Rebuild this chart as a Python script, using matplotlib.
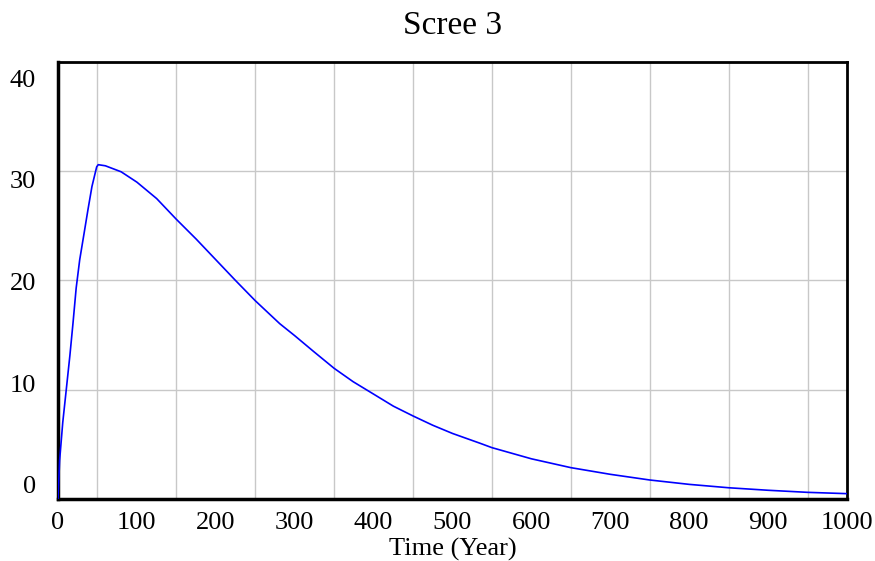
import matplotlib
matplotlib.use("Agg")
import matplotlib.pyplot as plt

# data
years = [0, 2, 6, 10, 15, 19, 23, 27.5, 33, 38, 43, 49, 51,
         60, 80, 100, 125, 150, 175, 200, 225, 250, 281, 300,
         324, 350, 374, 400, 425, 450, 475, 500, 535, 550, 600,
         650, 700, 750, 800, 850, 900, 950, 1000]
scree = [0, 3.5, 7.0, 9.7, 13.1, 16.1, 19.3, 21.9, 24.3, 26.5, 28.6, 30.4, 30.6,
         30.5, 29.95, 29.0, 27.5, 25.6, 23.8, 21.9, 20.0, 18.15, 16.05, 14.95,
         13.5, 11.96, 10.74, 9.6, 8.5, 7.6, 6.75, 6.0, 5.1, 4.7, 3.68,
         2.87, 2.26, 1.74, 1.34, 1.03, 0.8, 0.61, 0.49]

x_ticks = [0, 100, 200, 300, 400, 500, 600, 700, 800, 900, 1000]
x_grid = list(range(0, 1001, 50))
y_grid = [0, 10, 20, 30, 40]
y_labels = ["0", "10", "20", "30", "40"]
# vensim spaces the y labels evenly over a slightly shorter span than the grid
y_label_pos = [1.3, 10.6, 19.95, 29.2, 38.5]

plt.rcParams['font.family'] = ['Liberation Serif', 'DejaVu Serif']

fig = plt.figure(figsize=(8.75, 5.61), dpi=100)
ax = fig.add_axes([0.0663, 0.1105, 0.9017, 0.779])

ax.plot(years, scree, color='#0000ff', lw=1.2, zorder=3)

ax.set_xlim(0, 1000)
ax.set_ylim(0, 40)

ax.set_xticks(x_ticks)
ax.set_xticks(x_grid, minor=True)
ax.set_yticks(y_label_pos, y_labels)
ax.set_yticks(y_grid, minor=True)
ax.grid(which='minor', color='#c8c8c8', lw=1.0)
ax.tick_params(which='both', length=0)
ax.tick_params(axis='x', labelsize=19, pad=9)
ax.tick_params(axis='y', labelsize=19, pad=16)

for side in ['left', 'bottom']:
    ax.spines[side].set_linewidth(2.5)
for side in ['top', 'right']:
    ax.spines[side].set_linewidth(2.0)

ax.set_xlabel('Time (Year)', fontsize=19, labelpad=3)
ax.set_title('Scree 3', fontsize=24, pad=20)

fig.savefig('out.png', dpi=100)
